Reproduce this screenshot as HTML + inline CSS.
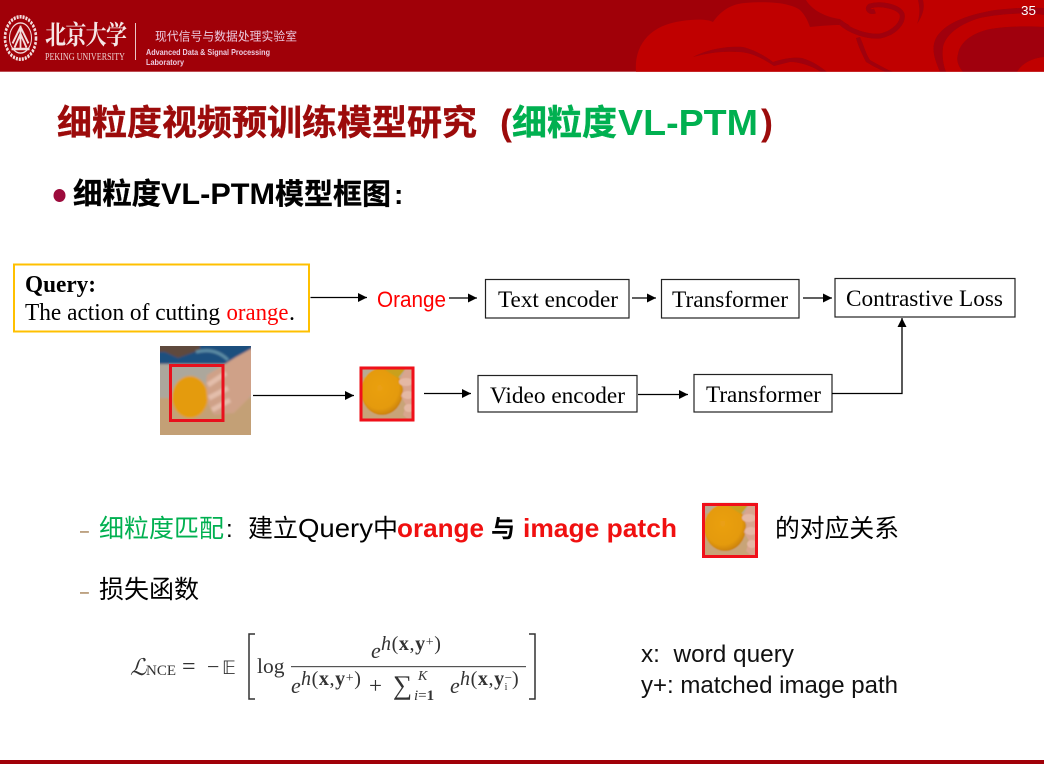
<!DOCTYPE html>
<html><head><meta charset="utf-8"><style>
html,body{margin:0;padding:0;background:#fff;width:1044px;height:764px;overflow:hidden}
svg{display:block}
.cjk{font-family:"Liberation Sans","Noto Sans CJK SC",sans-serif}
.t{font-family:"Liberation Serif","Noto Serif CJK SC",serif;fill:#000}
.s{font-family:"Liberation Sans","Noto Sans CJK SC",sans-serif}
.m{font-family:"Liberation Serif",serif;fill:#333}
.b{fill:#fff;stroke:#222;stroke-width:1.2}
.l{stroke:#000;stroke-width:1.3;fill:none}
</style></head><body>
<svg width="1044" height="764" viewBox="0 0 1044 764" xmlns="http://www.w3.org/2000/svg">
<defs>
<marker id="a" markerWidth="10" markerHeight="10" refX="9" refY="4.5" orient="auto" markerUnits="userSpaceOnUse"><path d="M0 0L9 4.500L0 9Z" fill="#000"/></marker>
<filter id="bl" x="-10%" y="-10%" width="120%" height="120%"><feGaussianBlur stdDeviation="1"/></filter>
<filter id="bm" x="-5%" y="-5%" width="110%" height="110%"><feGaussianBlur stdDeviation="0.5"/></filter>
<filter id="bs" x="-5%" y="-5%" width="110%" height="110%"><feGaussianBlur stdDeviation="0.25"/></filter>
<radialGradient id="og" cx="45%" cy="42%" r="60%"><stop offset="0" stop-color="#eaa012"/><stop offset=".75" stop-color="#e49a10"/><stop offset="1" stop-color="#c87f10"/></radialGradient>
<g id="crop">
  <rect x="0" y="0" width="54" height="54" fill="#c8a478"/>
  <rect x="0" y="0" width="54" height="10" fill="#b8ab94"/>
  <ellipse cx="22" cy="24.500" rx="21" ry="23.500" fill="url(#og)"/>
  <path d="M22 1L46 1L38 11Z" fill="#c9a01a"/>
  <path d="M46 1H54V54H50L43 48L46 38L41 29L44 22L39 14Z" fill="#d8a58e"/>
  <ellipse cx="46" cy="15" rx="7" ry="4" fill="#e4b8a4"/><ellipse cx="48" cy="28" rx="6" ry="4" fill="#e4b8a4"/><ellipse cx="49" cy="41" rx="5" ry="4" fill="#e4b8a4"/>
</g>
</defs>

<!-- header -->
<rect x="0" y="0" width="1044" height="71.7" fill="#a00008"/>
<clipPath id="hc"><rect x="0" y="0" width="1044" height="71.7"/></clipPath>
<g clip-path="url(#hc)"><g filter="url(#bs)">
<path d="M636 72C634 45 650 25 682 21C695 19 708 19 713 22C720 12 730 4 745 3C770 1 790 3 800 10C806 16 808 22 810 27C820 26 832 25 840 25L860 26L1044 26V72Z" fill="#c00000"/>
<path d="M806 0C812 10 825 17 840 19C850 28 868 32 880 32L1044 32V0Z" fill="#c00000"/>
<path d="M840 22C850 32 868 37 880 36C895 33 904 22 902 14C898 6 880 3 870 6C866 9 870 13 875 11" fill="none" stroke="#a00008" stroke-width="5"/>
<path d="M917 24C923 15 925 8 923 0H918C920 8 920 16 917 24Z" fill="#a00008"/>
<path d="M693 57C710 48 730 46 743 47C755 50 765 56 773 62C785 58 795 57 802 58C812 61 820 66 827 72H821C812 66 800 62 790 62L774 66C762 58 750 52 738 52C722 51 708 53 693 57Z" fill="#a00008"/>
<path d="M860 37C864 46 866 54 870 60C877 64 884 68 893 72H886C878 69 871 65 866 62C862 54 858 46 856 38Z" fill="#a00008"/>
<path d="M940 72C934 58 931 48 936 38C944 24 965 15 995 10C1012 8 1030 7 1044 8V15C1025 12 1000 14 980 18C960 24 946 34 943 47C942 56 943 64 946 72Z" fill="#a00008"/>
<path d="M963 72C958 66 956 60 958 54C960 42 972 33 990 29C1008 26 1030 26 1044 27V57C1033 58 1022 63 1017 72Z" fill="#a00008"/>
</g></g>

<!-- PKU seal -->
<g transform="translate(20.500,38) scale(1,1.370)" fill="none" stroke="#f3dcdc" filter="url(#bs)">
<circle cx="0" cy="0" r="15.500" stroke-width="2.600" stroke-dasharray="2 1"/>
<circle cx="0" cy="0" r="11" stroke-width="1"/>
<path d="M0 -9V8M0 -8L-8 4M0 -8L8 4M0 -3L-6 7M0 -3L6 7M-9 8H9" stroke-width="1.800"/>
</g>
<text transform="translate(45,44) scale(1,1.250)" x="0" y="0" font-family="'Noto Serif CJK SC',serif" font-weight="700" font-size="21" fill="#f5e6e6" textLength="82" lengthAdjust="spacing">北京大学</text>
<text x="45" y="60" font-family="'Liberation Serif',serif" font-size="11" fill="#eccfcf" textLength="80" lengthAdjust="spacingAndGlyphs">PEKING UNIVERSITY</text>
<rect x="135" y="23" width="1" height="37" fill="#e9c6c6"/>
<text x="155" y="40.500" class="cjk" font-size="11.800" fill="#eccbe0" textLength="142">现代信号与数据处理实验室</text>
<text x="146" y="55" class="s" font-weight="700" font-size="8.500" fill="#eccbe0" textLength="124" lengthAdjust="spacingAndGlyphs">Advanced Data &amp; Signal Processing</text>
<text x="146" y="65" class="s" font-weight="700" font-size="8.500" fill="#eccbe0" textLength="38" lengthAdjust="spacingAndGlyphs">Laboratory</text>
<text x="1021" y="15" class="s" font-size="13" fill="#fff" textLength="15" lengthAdjust="spacingAndGlyphs">35</text>

<!-- footer -->
<rect x="0" y="760" width="1044" height="4" fill="#a00008"/>

<!-- title -->
<text x="57" y="135" class="cjk" font-weight="700" font-size="35" fill="#9c0b0b" stroke="#9c0b0b" stroke-width=".4" textLength="420" lengthAdjust="spacingAndGlyphs">细粒度视频预训练模型研究</text>
<text x="500" y="135" class="s" font-weight="700" font-size="36" fill="#9c0b0b">(</text>
<text x="512" y="135" class="cjk" font-weight="700" font-size="35" fill="#00b050" stroke="#00b050" stroke-width=".4" textLength="105" lengthAdjust="spacingAndGlyphs">细粒度</text>
<text x="618" y="135" class="s" font-weight="700" font-size="36" fill="#00b050" textLength="140" lengthAdjust="spacingAndGlyphs">VL-PTM</text>
<text x="761" y="135" class="s" font-weight="700" font-size="36" fill="#9c0b0b">)</text>

<!-- subtitle -->
<ellipse cx="59.500" cy="195.500" rx="6" ry="6.500" fill="#9c0b3c"/>
<text x="73" y="204" class="cjk" font-weight="700" font-size="29.300" fill="#000" stroke="#000" stroke-width=".3" textLength="88" lengthAdjust="spacingAndGlyphs">细粒度</text>
<text x="161" y="204" class="s" font-weight="700" font-size="30" fill="#000" textLength="114" lengthAdjust="spacingAndGlyphs">VL-PTM</text>
<text x="275" y="204" class="cjk" font-weight="700" font-size="29" fill="#000" stroke="#000" stroke-width=".3" textLength="116" lengthAdjust="spacingAndGlyphs">模型框图</text>
<text x="394" y="204" class="s" font-weight="700" font-size="28" fill="#000">:</text>

<!-- query -->
<rect x="14" y="264.500" width="295" height="67" fill="#fff" stroke="#ffc000" stroke-width="2"/>
<text x="25" y="292" class="t" font-weight="700" font-size="24" textLength="71" lengthAdjust="spacingAndGlyphs">Query:</text>
<text x="25" y="320" class="t" font-size="24" textLength="195" lengthAdjust="spacingAndGlyphs">The action of cutting</text>
<text x="226.500" y="320" class="t" font-size="24" style="fill:#f00" textLength="62" lengthAdjust="spacingAndGlyphs">orange</text>
<text x="289" y="320" class="t" font-size="24">.</text>

<!-- flow -->
<path class="l" d="M310.500 297.500H367" marker-end="url(#a)"/>
<text x="377" y="307" class="s" font-size="22" fill="#f00" textLength="69" lengthAdjust="spacingAndGlyphs">Orange</text>
<path class="l" d="M449 298H477" marker-end="url(#a)"/>
<rect class="b" x="485.500" y="279.500" width="143.500" height="38.500"/>
<text x="498" y="307" class="t" font-size="23.500" textLength="120" lengthAdjust="spacingAndGlyphs">Text encoder</text>
<path class="l" d="M632 298H656" marker-end="url(#a)"/>
<rect class="b" x="661.500" y="279.500" width="137.500" height="38.500"/>
<text x="672" y="307" class="t" font-size="23.500" textLength="116" lengthAdjust="spacingAndGlyphs">Transformer</text>
<path class="l" d="M803 298H832" marker-end="url(#a)"/>
<rect class="b" x="835" y="278.500" width="180" height="38.500"/>
<text x="846" y="306" class="t" font-size="23.500" textLength="157" lengthAdjust="spacingAndGlyphs">Contrastive Loss</text>

<!-- source image -->
<clipPath id="ic"><rect x="160" y="346" width="91" height="89"/></clipPath>
<g clip-path="url(#ic)"><g filter="url(#bl)">
<rect x="155" y="341" width="101" height="99" fill="#c3a076"/>
<rect x="155" y="341" width="101" height="23" fill="#1d4f7e"/>
<rect x="155" y="364" width="101" height="34" fill="#aca79c"/>
<path d="M155 341H200V350L178 358L165 352H155Z" fill="#5f4a3c"/>
<path d="M196 352Q215 347 228 360" fill="none" stroke="#5d8ea6" stroke-width="3"/>
<ellipse cx="190" cy="397" rx="18" ry="21" fill="#e49b10"/>
<path d="M207 375L236 357L256 346V391L234 413L214 415L208 403L206 383Z" fill="#cfa188"/>
<path d="M208 385L226 373M209 398L228 388M212 410L230 400" stroke="#e3bdaa" stroke-width="5"/>
</g></g>
<rect x="170.500" y="365.500" width="52.500" height="55" fill="none" stroke="#e8101c" stroke-width="3"/>
<path class="l" d="M253 395.500H354" marker-end="url(#a)"/>

<g transform="translate(360,367)" filter="url(#bm)"><use href="#crop"/></g>
<rect x="361" y="368" width="52" height="52" fill="none" stroke="#f0101a" stroke-width="3"/>
<path class="l" d="M424 393.500H471" marker-end="url(#a)"/>
<rect class="b" x="478" y="375.500" width="159" height="36.500"/>
<text x="490" y="403" class="t" font-size="23.500" textLength="135" lengthAdjust="spacingAndGlyphs">Video encoder</text>
<path class="l" d="M638 394.500H688" marker-end="url(#a)"/>
<rect class="b" x="694" y="374.500" width="138" height="37.500"/>
<text x="706" y="402" class="t" font-size="23.500" textLength="115" lengthAdjust="spacingAndGlyphs">Transformer</text>
<path class="l" d="M832 393.500H902V318" marker-end="url(#a)"/>

<!-- bullets -->
<text x="80" y="536" class="s" font-size="16" fill="#8a5a20">–</text>
<text x="99" y="537" class="cjk" font-size="25" fill="#00b050" textLength="125" lengthAdjust="spacingAndGlyphs">细粒度匹配</text>
<text x="226" y="537" class="s" font-size="24" fill="#000">:</text>
<text x="248" y="537" class="cjk" font-size="25" fill="#000" textLength="50" lengthAdjust="spacingAndGlyphs">建立</text>
<text x="298" y="537" class="s" font-size="26" fill="#000" textLength="75" lengthAdjust="spacingAndGlyphs">Query</text>
<text x="373" y="537" class="cjk" font-size="25" fill="#000">中</text>
<text x="397" y="537" class="s" font-weight="700" font-size="26" fill="#f01010" textLength="87" lengthAdjust="spacingAndGlyphs">orange</text>
<text x="491" y="537" class="cjk" font-weight="700" font-size="24" fill="#000">与</text>
<text x="523" y="537" class="s" font-weight="700" font-size="26" fill="#f01010" textLength="154" lengthAdjust="spacingAndGlyphs">image patch</text>
<g transform="translate(703,503)" filter="url(#bm)"><use href="#crop"/></g>
<rect x="703.500" y="504.500" width="53" height="52" fill="none" stroke="#f0101a" stroke-width="3"/>
<text x="775" y="537" class="cjk" font-size="25" fill="#000" textLength="124" lengthAdjust="spacingAndGlyphs">的对应关系</text>
<text x="80" y="597" class="s" font-size="16" fill="#8a5a20">–</text>
<text x="99" y="598" class="cjk" font-size="25" fill="#000" textLength="100" lengthAdjust="spacingAndGlyphs">损失函数</text>

<!-- formula -->
<g filter="url(#bs)">
<text x="130" y="675" class="m" font-style="italic" font-size="23">ℒ</text>
<text x="146" y="675" class="m" font-size="15" textLength="30" lengthAdjust="spacingAndGlyphs">NCE</text>
<text x="182" y="674" class="m" font-size="24">=</text>
<text x="207" y="674" class="m" font-size="22">−</text>
<text x="222" y="674" style="font-family:'DejaVu Sans',serif;fill:#333" font-size="19">𝔼</text>
<path d="M255 634H249V699H255M529 634H535V699H529" fill="none" stroke="#333" stroke-width="1.500"/>
<text x="257" y="673" class="m" font-size="21.500">log</text>
<rect x="291" y="666" width="235" height="1.200" fill="#555"/>
<text x="371" y="658" class="m" font-style="italic" font-size="22">e</text>
<text x="381" y="650" class="m" font-size="20" letter-spacing=".6"><tspan font-style="italic">h</tspan>(<tspan font-weight="700">x</tspan>,<tspan font-weight="700">y</tspan><tspan font-size="14" dy="-4">+</tspan><tspan dy="4">)</tspan></text>
<text x="291" y="693" class="m" font-style="italic" font-size="22">e</text>
<text x="301" y="685" class="m" font-size="20" letter-spacing=".6"><tspan font-style="italic">h</tspan>(<tspan font-weight="700">x</tspan>,<tspan font-weight="700">y</tspan><tspan font-size="14" dy="-3">+</tspan><tspan dy="3">)</tspan></text>
<text x="369" y="693" class="m" font-size="23">+</text>
<text x="393" y="694" class="m" font-size="27">∑</text>
<text x="418" y="680" class="m" font-style="italic" font-size="14">K</text>
<text x="414" y="700" class="m" font-size="15"><tspan font-style="italic">i</tspan>=<tspan font-weight="700">1</tspan></text>
<text x="450" y="693" class="m" font-style="italic" font-size="22">e</text>
<text x="460" y="685" class="m" font-size="20" letter-spacing=".6"><tspan font-style="italic">h</tspan>(<tspan font-weight="700">x</tspan>,<tspan font-weight="700">y</tspan><tspan font-size="13" dy="-3">−</tspan><tspan font-size="10" dx="-8" dy="8">i</tspan><tspan dy="-5" dx="4">)</tspan></text>
</g>

<!-- legend -->
<text x="641" y="662" class="s" font-size="24" fill="#111" textLength="153" lengthAdjust="spacingAndGlyphs" xml:space="preserve">x:  word query</text>
<text x="641" y="693" class="s" font-size="24" fill="#111" textLength="257" lengthAdjust="spacingAndGlyphs">y+: matched image path</text>
</svg>
</body></html>
